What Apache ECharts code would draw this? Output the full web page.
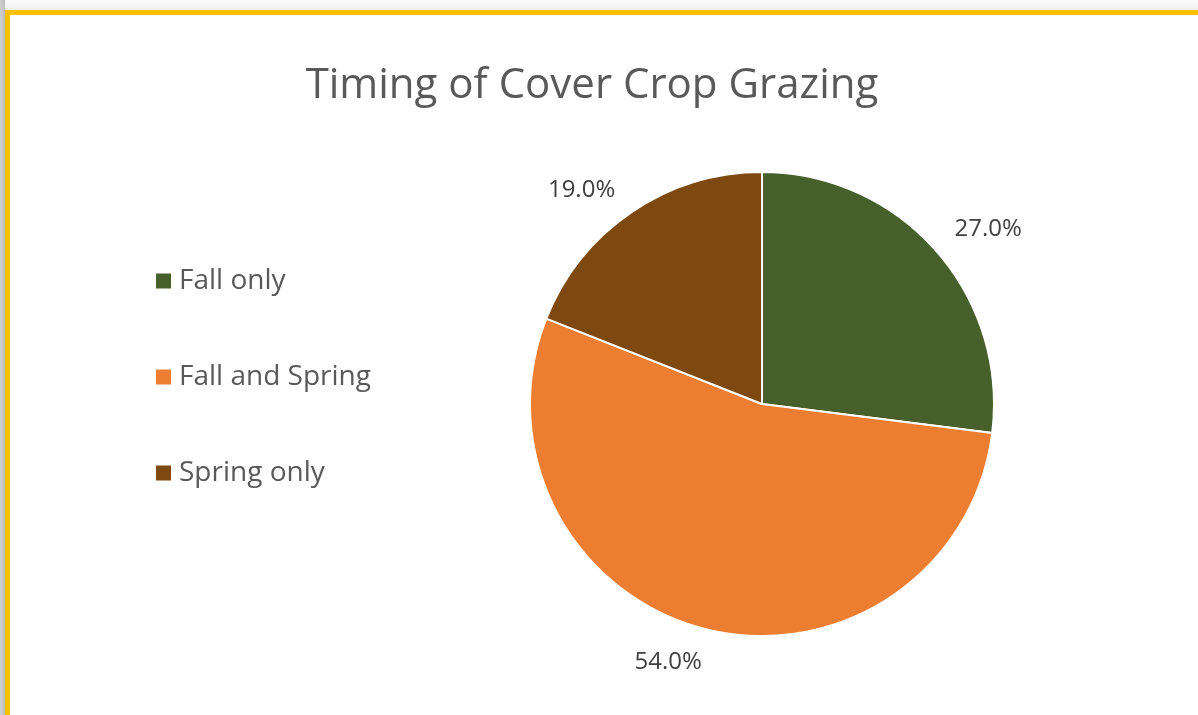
<!DOCTYPE html>
<html><head><meta charset="utf-8">
<script src="https://cdn.jsdelivr.net/npm/echarts@6/dist/echarts.min.js"></script>
<style>
html,body{margin:0;padding:0;width:1198px;height:715px;overflow:hidden;background:#fff;}
#topstrip{position:absolute;left:0;top:0;width:1198px;height:10px;background:linear-gradient(#fafafa,#f0f0f0);}
#leftstrip{position:absolute;left:0;top:0;width:5px;height:715px;background:linear-gradient(90deg,#d0d0d0,#bcbcbc);}
#frame{position:absolute;left:5px;top:10px;width:1193px;height:705px;border-top:5px solid #FFC000;border-left:5px solid #FFC000;box-sizing:border-box;background:#fff;}
#chart{position:absolute;left:0;top:0;width:1198px;height:715px;}
</style></head>
<body>
<div id="topstrip"></div><div id="leftstrip"></div><div id="frame"></div>
<div id="chart"></div>
<script>
const categories = ["Fall only", "Fall and Spring", "Spring only"];
const values = [27.0, 54.0, 19.0];
const colors = ["#465F2B", "#ED7D31", "#7E4811"];
const titleText = "Timing of Cover Crop Grazing";

// small label nudges (px) to mimic the spreadsheet label placement
const labelNudge = [[-3, -7], [8, 12], [1, -4]];

const chart = echarts.init(document.getElementById('chart'), null, {renderer:'canvas'});
const font = "'Open Sans', 'Liberation Sans', sans-serif";
chart.setOption({
  backgroundColor: 'transparent',
  animation: false,
  title: {
    text: titleText, left: 587, top: 60, textAlign: 'center',
    textStyle: {fontFamily: font, fontSize: 42, fontWeight: 'normal', color: '#595959'}
  },
  legend: {
    orient: 'vertical', left: 151, top: 261, itemGap: 66,
    itemWidth: 15, itemHeight: 15, icon: 'rect',
    itemStyle: {borderWidth: 0},
    data: categories,
    textStyle: {fontFamily: font, fontSize: 28, lineHeight: 30, color: '#595959', padding: [0,0,0,3]}
  },
  series: [{
    type: 'pie',
    center: [762, 404], radius: 232,
    startAngle: 90, clockwise: true,
    itemStyle: {borderColor: '#fff', borderWidth: 2},
    label: {
      show: true, position: 'outside',
      formatter: p => p.value.toFixed(1) + '%',
      fontFamily: font, fontSize: 24, color: '#404040'
    },
    labelLine: {show: false, length: 22, length2: 0},
    labelLayout: p => ({dx: labelNudge[p.dataIndex][0], dy: labelNudge[p.dataIndex][1]}),
    emphasis: {disabled: true},
    data: categories.map((c, i) => ({name: c, value: values[i], itemStyle: {color: colors[i]}}))
  }]
});
</script>
</body></html>
